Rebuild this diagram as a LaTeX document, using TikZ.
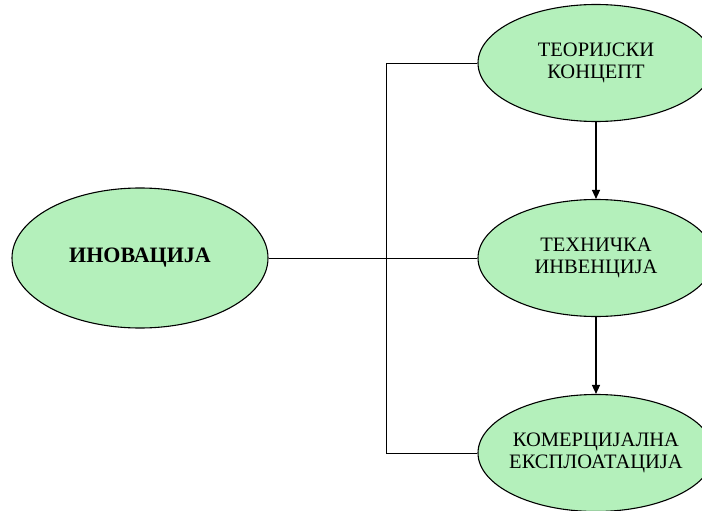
\documentclass[tikz,border=0pt]{standalone}
\usepackage{fontspec}
\setmainfont{Liberation Serif}
\usetikzlibrary{shapes.geometric,arrows.meta}
\definecolor{leaf}{RGB}{180,240,187}
\begin{document}
\begin{tikzpicture}[x=1pt,y=-1pt,
  blob/.style={ellipse,draw=black,line width=1.1pt,fill=leaf,inner sep=0pt,
    align=center,font=\fontsize{20.5}{22.5}\selectfont},
  mainblob/.style={blob,minimum width=256pt,minimum height=140pt,
    font=\fontsize{22}{24}\selectfont\bfseries},
  sideblob/.style={blob,minimum width=236pt,minimum height=117pt,inner xsep=-12pt},
  link/.style={line width=0.9pt},
  flow/.style={line width=1.3pt,-{Triangle[length=9pt,width=8pt]}}]
\useasboundingbox (0,0) rectangle (702,511);
\clip (0,0) rectangle (702,511);
\coordinate (busTop) at (386,63);
\coordinate (busBot) at (386,453);
% connectors first, ellipses drawn on top
\draw[link] (busTop) -- (busBot);
\node[mainblob] (inov) at (140,258) {ИНОВАЦИЈА};
\node[sideblob] (teor) at (596,63) {ТЕОРИЈСКИ\\КОНЦЕПТ};
\node[sideblob] (teh) at (596,258) {ТЕХНИЧКА\\ИНВЕНЦИЈА};
\node[sideblob] (kom) at (596,453) {КОМЕРЦИЈАЛНА\\ЕКСПЛОАТАЦИЈА};
\draw[link] (inov.east) -- (teh.west);
\draw[link] (busTop) -- (teor.west);
\draw[link] (busBot) -- (kom.west);
\draw[flow] (teor.south) -- (teh.north);
\draw[flow] (teh.south) -- (kom.north);
\end{tikzpicture}
\end{document}
